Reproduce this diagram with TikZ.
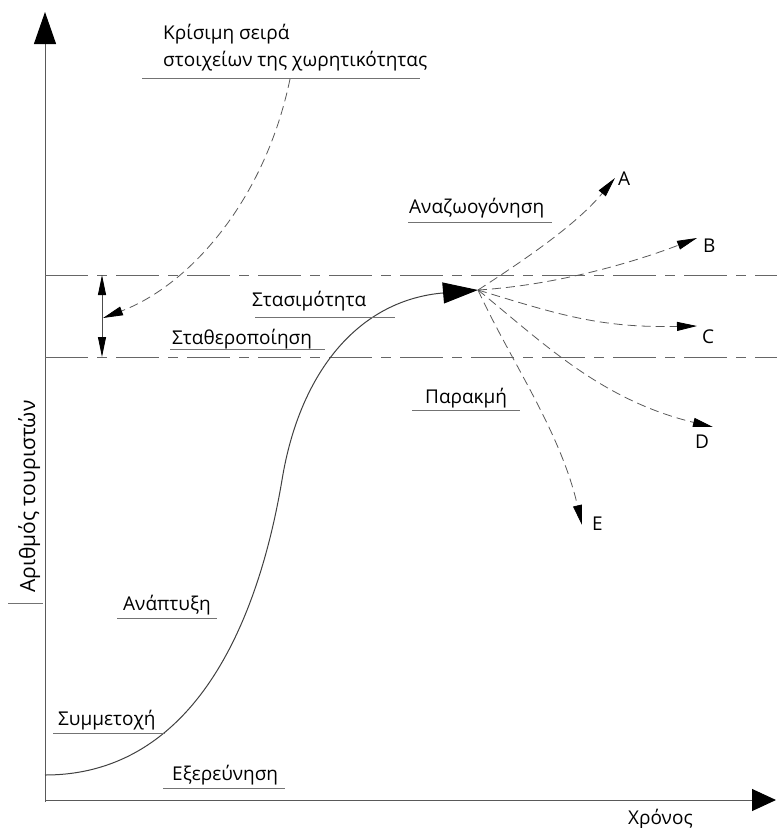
\documentclass[tikz,border=0pt]{standalone}
\usepackage{fontspec}
\setmainfont{Open Sans}
\usetikzlibrary{arrows.meta, positioning}
\tikzset{
  lbl/.style={font=\fontsize{19}{27}\selectfont, text=black, inner sep=0pt},
  uline/.style={draw=black!55, line width=0.9pt},
  yaxis/.style={draw=black!65, line width=1pt, -{Triangle[length=32pt,width=22pt,color=black]}},
  xaxis/.style={draw=black!65, line width=1pt, -{Triangle[length=24pt,width=22pt,color=black]}},
  band/.style={draw=black!60, line width=0.9pt, dash pattern=on 43pt off 9pt on 10pt off 9pt},
  branch/.style={draw=black!65, line width=0.8pt, dash pattern=on 9pt off 5pt, -{Triangle[length=20pt,width=9pt,color=black]}},
  gauge/.style={draw=black!70, line width=0.9pt, {Triangle[length=20pt,width=8pt,color=black]}-{Triangle[length=20pt,width=8pt,color=black]}},
  lifecurve/.style={draw=black!75, line width=1pt, -{Triangle[length=35pt,width=21pt,color=black]}}
}

\begin{document}
\begin{tikzpicture}[x=1pt, y=-1pt]
\useasboundingbox (0,0) rectangle (777,828);

% axes
\coordinate (o) at (45,800);
\coordinate (ytop) at (45,12);
\coordinate (xend) at (776,800);
\draw[yaxis] (45,802) -- (ytop);
\draw[xaxis] (o) -- (xend);
\node[lbl, font=\fontsize{21}{27}\selectfont, rotate=90, anchor=base west] (ylab) at (35,593) {Αριθμός τουριστών};
\draw[uline] (8,603) -- (43,603);
\node[lbl, anchor=base west] (xlab) at (628,824) {Χρόνος};

% capacity band
\coordinate (bandL1) at (45,275);
\coordinate (bandR1) at (777,275);
\coordinate (bandL2) at (45,357);
\coordinate (bandR2) at (777,357);
\draw[band] (bandL1) -- (bandR1);
\draw[band] (bandL2) -- (bandR2);
\coordinate (bandtop) at (102,275);
\coordinate (bandbot) at (102,357);
\coordinate (bandmid) at (103,318);
\draw[gauge] (bandtop) -- (bandbot);

% critical range
\node[lbl, align=left, anchor=north west] (kris) at (163,24) {Κρίσιμη σειρά\\στοιχείων της χωρητικότητας};
\draw[uline] (142,78) -- (420,78);
\coordinate (krisfoot) at (290,79);
\draw[branch] (krisfoot) .. controls (265,200) and (190,285) .. (bandmid);

% life cycle curve
\coordinate (start) at (45,775);
\coordinate (peak) at (478,290);
\draw[lifecurve] (start) .. controls (185,775) and (255,640) .. (282,480)
  .. controls (300,370) and (360,300) .. (peak);

% stages
\node[lbl, anchor=base west] (expl) at (172,780) {Εξερεύνηση};
\draw[uline] (163,788) -- (285,788);
\node[lbl, anchor=base west] (invol) at (58,725) {Συμμετοχή};
\draw[uline] (53,733) -- (165,733);
\node[lbl, anchor=base west] (devel) at (123,610) {Ανάπτυξη};
\draw[uline] (117,618) -- (217,618);
\node[lbl, anchor=base west] (consol) at (172,344) {Σταθεροποίηση};
\draw[uline] (170,349) -- (325,349);
\node[lbl, anchor=base west] (stag) at (252,306) {Στασιμότητα};
\draw[uline] (255,317) -- (395,317);
\node[lbl, anchor=base west] (rejuv) at (409,213) {Αναζωογόνηση};
\draw[uline] (408,222) -- (552,222);
\node[lbl, anchor=base west] (decl) at (425,403) {Παρακμή};
\draw[uline] (412,410) -- (520,410);

% possible futures
\coordinate (tipA) at (615,178);
\coordinate (tipB) at (697,238);
\coordinate (tipC) at (697,326);
\coordinate (tipD) at (713,427);
\coordinate (tipE) at (582,525);
\draw[branch] (peak) .. controls (540,250) and (580,220) .. (tipA);
\draw[branch] (peak) .. controls (560,285) and (640,260) .. (tipB);
\draw[branch] (peak) .. controls (560,315) and (600,328) .. (tipC);
\draw[branch] (peak) .. controls (540,340) and (600,400) .. (tipD);
\draw[branch] (peak) .. controls (510,360) and (560,430) .. (tipE);
\node[lbl, anchor=base west] (labA) at (618,185) {A};
\node[lbl, anchor=base west] (labB) at (703,252) {B};
\node[lbl, anchor=base west] (labC) at (702,343) {C};
\node[lbl, anchor=base west] (labD) at (695,448) {D};
\node[lbl, anchor=base west] (labE) at (592,530) {E};
\end{tikzpicture}
\end{document}
